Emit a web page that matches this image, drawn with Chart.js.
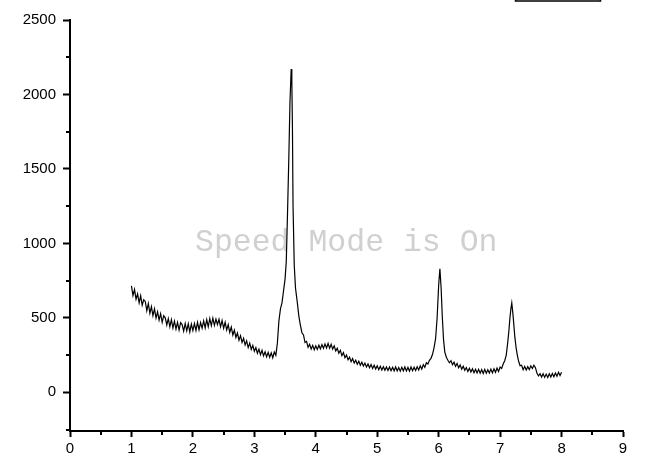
<!DOCTYPE html>
<html>
<head>
<meta charset="utf-8">
<title>Diffraction pattern</title>
<script src="https://cdn.jsdelivr.net/npm/chart.js@4.4.1/dist/chart.umd.min.js"></script>
<style>
    html, body { margin: 0; padding: 0; background: #fff; }
    #wrap { width: 668px; height: 459px; position: relative; }
</style>
</head>
<body>
<div id="wrap"><canvas id="xrdChart"></canvas></div>
<script>
const xValues = [
    // broad hump 1 - 3.4
    1.000, 1.025, 1.050, 1.075, 1.100, 1.125, 1.150, 1.175, 1.200, 1.225,
    1.250, 1.275, 1.300, 1.325, 1.350, 1.375, 1.400, 1.425, 1.450, 1.475,
    1.500, 1.525, 1.550, 1.575, 1.600, 1.625, 1.650, 1.675, 1.700, 1.725,
    1.750, 1.775, 1.800, 1.825, 1.850, 1.875, 1.900, 1.925, 1.950, 1.975,
    2.000, 2.025, 2.050, 2.075, 2.100, 2.125, 2.150, 2.175, 2.200, 2.225,
    2.250, 2.275, 2.300, 2.325, 2.350, 2.375, 2.400, 2.425, 2.450, 2.475,
    2.500, 2.525, 2.550, 2.575, 2.600, 2.625, 2.650, 2.675, 2.700, 2.725,
    2.750, 2.775, 2.800, 2.825, 2.850, 2.875, 2.900, 2.925, 2.950, 2.975,
    3.000, 3.025, 3.050, 3.075, 3.100, 3.125, 3.150, 3.175, 3.200, 3.225,
    3.250, 3.275, 3.300, 3.325, 3.350, 3.375,
    // main peak
    3.400, 3.425, 3.450, 3.475, 3.500, 3.520, 3.540, 3.560, 3.580, 3.600,
    3.610, 3.620, 3.630, 3.650, 3.670, 3.700, 3.725, 3.750,
    // tail 3.8 - 5.9
    3.775, 3.800, 3.825, 3.850, 3.875, 3.900, 3.925, 3.950, 3.975, 4.000,
    4.025, 4.050, 4.075, 4.100, 4.125, 4.150, 4.175, 4.200, 4.225, 4.250,
    4.275, 4.300, 4.325, 4.350, 4.375, 4.400, 4.425, 4.450, 4.475, 4.500,
    4.525, 4.550, 4.575, 4.600, 4.625, 4.650, 4.675, 4.700, 4.725, 4.750,
    4.775, 4.800, 4.825, 4.850, 4.875, 4.900, 4.925, 4.950, 4.975, 5.000,
    5.025, 5.050, 5.075, 5.100, 5.125, 5.150, 5.175, 5.200, 5.225, 5.250,
    5.275, 5.300, 5.325, 5.350, 5.375, 5.400, 5.425, 5.450, 5.475, 5.500,
    5.525, 5.550, 5.575, 5.600, 5.625, 5.650, 5.675, 5.700, 5.725, 5.750,
    5.775, 5.800, 5.825, 5.850, 5.875, 5.900,
    // peak at 6
    5.925, 5.950, 5.975, 6.000, 6.020, 6.040, 6.060, 6.080, 6.100, 6.125,
    6.150,
    // 6.2 - 7.1
    6.175, 6.200, 6.225, 6.250, 6.275, 6.300, 6.325, 6.350, 6.375, 6.400,
    6.425, 6.450, 6.475, 6.500, 6.525, 6.550, 6.575, 6.600, 6.625, 6.650,
    6.675, 6.700, 6.725, 6.750, 6.775, 6.800, 6.825, 6.850, 6.875, 6.900,
    6.925, 6.950, 6.975, 7.000, 7.025, 7.050, 7.075,
    // peak at 7.2
    7.100, 7.120, 7.140, 7.160, 7.175, 7.190, 7.210, 7.240, 7.260, 7.280,
    7.300,
    // end 7.3 - 8
    7.325, 7.350, 7.375, 7.400, 7.425, 7.450, 7.475, 7.500, 7.525, 7.550,
    7.575, 7.600, 7.625, 7.650, 7.675, 7.700, 7.725, 7.750, 7.775, 7.800,
    7.825, 7.850, 7.875, 7.900, 7.925, 7.950, 7.975, 8.000
];

const intensity = [
    715, 650, 690, 625, 660, 600, 648, 585, 622, 610,
    548, 596, 530, 575, 515, 560, 498, 540, 485, 528,
    470, 515, 500, 452, 495, 440, 488, 432, 478, 425,
    470, 418, 468, 455, 410, 462, 412, 460, 405, 458,
    414, 462, 415, 470, 420, 468, 430, 480, 432, 488,
    440, 495, 448, 498, 450, 492, 455, 490, 440, 482,
    430, 470, 418, 455, 402, 438, 385, 418, 368, 398,
    350, 380, 335, 362, 318, 345, 300, 330, 288, 315,
    275, 300, 262, 290, 252, 282, 245, 272, 238, 268,
    235, 265, 232, 270, 248, 330,

    480, 560, 600, 680, 760, 880, 1200, 1550, 1950, 2170,
    2100, 1780, 1250, 850, 700, 600, 510, 450,

    400, 385, 335, 342, 302, 322, 290, 315, 286, 312,
    288, 316, 292, 320, 295, 325, 298, 328, 296, 322,
    290, 312, 278, 296, 262, 282, 246, 266, 232, 250,
    218, 236, 206, 226, 196, 216, 188, 208, 182, 202,
    176, 196, 170, 190, 165, 186, 160, 182, 156, 178,
    152, 175, 150, 172, 148, 170, 146, 170, 145, 168,
    144, 170, 143, 166, 142, 168, 144, 170, 143, 167,
    142, 170, 145, 168, 146, 172, 150, 178, 156, 186,
    168, 198, 190, 215, 228, 255,

    300, 360, 500, 720, 830, 700, 500, 350, 270, 235,
    215,

    198, 212, 185, 202, 174, 194, 165, 184, 155, 175,
    148, 166, 140, 162, 136, 158, 132, 155, 130, 154,
    128, 152, 126, 154, 128, 152, 130, 156, 130, 158,
    134, 162, 140, 170, 160, 190, 212,

    250, 320, 400, 500, 560, 600, 520, 370, 300, 250,
    210,

    178, 182, 152, 174, 150, 172, 152, 178, 160, 182,
    165, 128, 110, 125, 102, 124, 100, 122, 100, 125,
    102, 126, 104, 130, 108, 134, 112, 135
];

// Axis ticks
const xTicks = [0, 1, 2, 3, 4, 5, 6, 7, 8, 9];
const xMinorTicks = [0.5, 1.5, 2.5, 3.5, 4.5, 5.5, 6.5, 7.5, 8.5];
const yTicks = [0, 500, 1000, 1500, 2000, 2500];
const yMinorTicks = [-250, 250, 750, 1250, 1750, 2250];

const watermarkText = 'Speed Mode is On';

// Watermark + clipped legend frame + minor ticks
const decorPlugin = {
    id: 'decor',
    beforeDatasetsDraw: function(chart) {
        const ctx = chart.ctx;
        ctx.save();
        ctx.font = '31.5px "Liberation Mono", "Courier New", monospace';
        ctx.fillStyle = '#d0d0d0';
        ctx.textBaseline = 'alphabetic';
        ctx.fillText(watermarkText, 195, 251);
        ctx.restore();
    },
    afterDraw: function(chart) {
        const ctx = chart.ctx;
        const area = chart.chartArea;
        const xs = chart.scales.x;
        const ys = chart.scales.y;

        ctx.save();
        ctx.strokeStyle = '#000';
        ctx.lineWidth = 2;

        // minor ticks on the y axis
        yMinorTicks.forEach(v => {
            const py = Math.round(ys.getPixelForValue(v));
            ctx.beginPath();
            ctx.moveTo(area.left - 4, py);
            ctx.lineTo(area.left, py);
            ctx.stroke();
        });

        // minor ticks on the x axis
        xMinorTicks.forEach(v => {
            const px = Math.round(xs.getPixelForValue(v));
            ctx.beginPath();
            ctx.moveTo(px, area.bottom);
            ctx.lineTo(px, area.bottom + 4);
            ctx.stroke();
        });

        // legend frame, mostly cut off at the top
        ctx.lineWidth = 1.5;
        ctx.strokeRect(515.5, -20, 85, 21);
        ctx.restore();
    }
};

const ctx = document.getElementById('xrdChart').getContext('2d');

new Chart(ctx, {
    type: 'line',
    data: {
        datasets: [{
            label: 'Intensity',
            data: xValues.map((x, i) => ({ x: x, y: intensity[i] })),
            borderColor: '#000',
            borderWidth: 1.2,
            pointRadius: 0,
            tension: 0,
            fill: false
        }]
    },
    options: {
        responsive: true,
        maintainAspectRatio: false,
        animation: false,
        layout: {
            padding: { top: 20, right: 45, left: 0, bottom: 0 }
        },
        plugins: {
            legend: { display: false },
            tooltip: { enabled: false }
        },
        scales: {
            x: {
                type: 'linear',
                min: 0,
                max: 9,
                afterBuildTicks: function(axis) {
                    axis.ticks = xTicks.map(v => ({ value: v }));
                },
                afterFit: function(axis) {
                    axis.height = 28;
                },
                border: { color: '#000', width: 2 },
                grid: {
                    drawOnChartArea: false,
                    drawTicks: true,
                    tickLength: 6,
                    tickColor: '#000',
                    tickWidth: 2
                },
                ticks: {
                    color: '#000',
                    padding: 3,
                    maxRotation: 0,
                    callback: function(value) {
                        return String(value);
                    },
                    font: { family: '"Liberation Sans", Arial, sans-serif', size: 15 }
                }
            },
            y: {
                type: 'linear',
                min: -260,
                max: 2500,
                afterBuildTicks: function(axis) {
                    axis.ticks = yTicks.map(v => ({ value: v }));
                },
                afterFit: function(axis) {
                    axis.width = 70;
                },
                border: { color: '#000', width: 2 },
                grid: {
                    drawOnChartArea: false,
                    drawTicks: true,
                    tickLength: 7,
                    tickColor: '#000',
                    tickWidth: 2
                },
                ticks: {
                    color: '#000',
                    padding: 7,
                    callback: function(value) {
                        return String(value);
                    },
                    font: { family: '"Liberation Sans", Arial, sans-serif', size: 15 }
                }
            }
        }
    },
    plugins: [decorPlugin]
});
</script>
</body>
</html>
